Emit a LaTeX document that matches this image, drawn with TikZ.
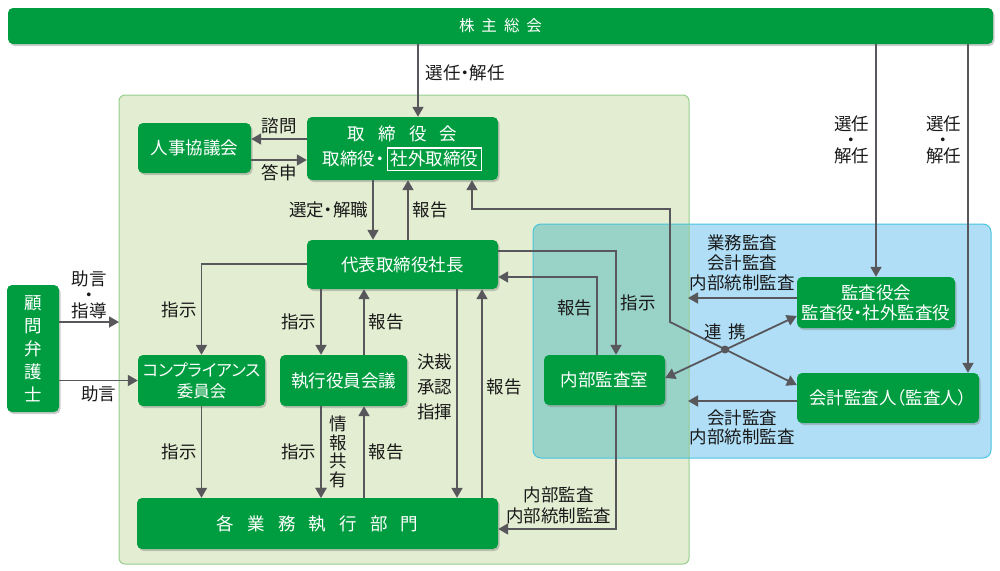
\documentclass[tikz,border=0pt]{standalone}
\usepackage{fontspec}
\setmainfont{Noto Sans CJK JP}[RawFeature=+palt]
\usetikzlibrary{arrows.meta, shadows}
\definecolor{kgreen}{RGB}{0,157,64}
\definecolor{boardfill}{RGB}{227,237,209}
\definecolor{boardline}{RGB}{150,206,142}
\definecolor{auditfill}{RGB}{176,222,246}
\definecolor{auditline}{RGB}{72,196,222}
\definecolor{overlapfill}{RGB}{153,210,199}
\definecolor{linkgray}{RGB}{88,87,91}
\setlength{\fboxsep}{2.5pt}
\setlength{\fboxrule}{1.2pt}
\newcommand*{\kgap}{\hspace{0.75em}}
\tikzstyle{unit} = [fill=kgreen, text=white, rounded corners=5pt, align=center, inner sep=0pt, font=\fontsize{17.5}{21}\selectfont, drop shadow={shadow xshift=1.5pt, shadow yshift=-2pt, opacity=0.4}]
\tikzstyle{flow} = [draw=linkgray, line width=1.8pt, -{Triangle[length=10pt, width=11pt]}]
\tikzstyle{twoway} = [flow, {Triangle[length=10pt, width=11pt]}-{Triangle[length=10pt, width=11pt]}]
\tikzstyle{lbl} = [font=\fontsize{17.5}{19}\selectfont, align=center, inner sep=4pt, text=black!90]
\tikzstyle{panel} = [line width=1pt]

\begin{document}
\begin{tikzpicture}[x=1pt, y=-1pt]
    \useasboundingbox (0,0) rectangle (1000,570);

    % Panels.
    \fill [panel, boardfill, rounded corners=6pt] (119,95) rectangle (689,564);
    \fill [panel, auditfill, rounded corners=8pt] (533,224) rectangle (991,458);
    \begin{scope}
        \clip [rounded corners=6pt] (119,95) rectangle (689,564);
        \fill [overlapfill, rounded corners=8pt] (533,224) rectangle (991,458);
    \end{scope}
    \draw [panel, boardline, rounded corners=6pt] (119,95) rectangle (689,564);
    \draw [panel, auditline, rounded corners=8pt] (533,224) rectangle (991,458);

    % Boxes.
    \node (soukai) [unit, minimum width=985pt, minimum height=36pt, font=\fontsize{15.5}{18}\selectfont] at (500.5,26) {株\hspace{7pt}主\hspace{7pt}総\hspace{7pt}会};
    \node (jinji) [unit, minimum width=113pt, minimum height=50pt] at (194.5,148) {人事協議会};
    \node (torishimari) [unit, minimum width=191pt, minimum height=63pt, font=\fontsize{17.5}{25}\selectfont] at (402.5,148.5) {取\kgap 締\kgap 役\kgap 会\\取締役・\,\fcolorbox{white}{kgreen}{社外取締役}};
    \node (daihyo) [unit, minimum width=191pt, minimum height=49pt] at (402.5,264.5) {代表取締役社長};
    \node (comp) [unit, minimum width=127pt, minimum height=51pt, font=\fontsize{16.5}{21}\selectfont] at (201.5,380.5) {コンプライアンス\\委員会};
    \node (shikko) [unit, minimum width=127pt, minimum height=51pt] at (343.5,380.5) {執行役員会議};
    \node (naibu) [unit, minimum width=121pt, minimum height=50pt] at (604.5,380) {内部監査室};
    \node (kansayaku) [unit, minimum width=158pt, minimum height=51pt, font=\fontsize{17.5}{20}\selectfont] at (876,302.5) {監査役会\\監査役・社外監査役};
    \node (kaikei) [unit, minimum width=182pt, minimum height=50pt] at (888,398) {会計監査人（監査人）};
    \node (komon) [unit, minimum width=52pt, minimum height=127pt, font=\fontsize{17.5}{23}\selectfont] at (33,348.5) {顧\\問\\弁\\護\\士};
    \node (kakubu) [unit, minimum width=361pt, minimum height=51pt] at (317.5,523.5) {各\kgap 業\kgap 務\kgap 執\kgap 行\kgap 部\kgap 門};

    % Connector ends.
    \coordinate (tori-in) at ([xshift=15.5pt]torishimari.north);
    \coordinate (shimon) at ([yshift=9.5pt]torishimari.west);
    \coordinate (toshin) at ([yshift=-12pt]jinji.east);
    \coordinate (sentei) at ([xshift=-29.5pt]torishimari.south);
    \coordinate (hokoku1) at ([xshift=5.5pt]daihyo.north);
    \coordinate (shiji2) at ([xshift=-22.5pt]shikko.north);
    \coordinate (hokoku2) at ([xshift=20.5pt]shikko.north);
    \coordinate (kessai) at ([xshift=54.5pt]daihyo.south);
    \coordinate (hokoku3) at ([xshift=79.5pt]daihyo.south);
    \coordinate (shiji3) at ([xshift=11.5pt]naibu.north);
    \coordinate (hokoku4) at ([xshift=-7.5pt]naibu.north);
    \coordinate (kansa1) at ([xshift=11.5pt]naibu.south);
    \coordinate (shiji5) at ([xshift=-22.5pt]shikko.south);
    \coordinate (hokoku5) at ([xshift=20.5pt]shikko.south);
    \coordinate (kaikei-in) at ([xshift=80pt]kaikei.north);
    \coordinate (board-e) at (688,0);
    \coordinate (advice-end) at (119,322);
    \coordinate (renkei-a) at ([xshift=69.5pt]torishimari.south);
    \coordinate (renkei-top) at (670,209);
    \coordinate (renkei-bend) at (670,322);
    \coordinate (renkei) at (725,349.5);

    % Arrows.
    \draw [flow] (soukai.south -| tori-in) -- node [lbl, right=3pt, pos=0.4] (l-senin) {選任・解任} (tori-in);
    \draw [flow] (soukai.south -| kansayaku.north) -- node [lbl, left=2pt, pos=0.41, font=\fontsize{17.5}{16}\selectfont] (l-senin2) {選任\\・\\解任} (kansayaku.north);
    \draw [flow] (soukai.south -| kaikei-in) -- node [lbl, left=2pt, pos=0.29, font=\fontsize{17.5}{16}\selectfont] (l-senin3) {選任\\・\\解任} (kaikei-in);
    \draw [flow] (shimon) -- node [lbl, above] (l-shimon) {諮問} (shimon -| jinji.east);
    \draw [flow] (toshin) -- node [lbl, below] (l-toshin) {答申} (toshin -| torishimari.west);
    \draw [flow] (sentei) -- node [lbl, left] (l-sentei) {選定・解職} (sentei |- daihyo.north);
    \draw [flow] (hokoku1) -- node [lbl, right] (l-hokoku1) {報告} (hokoku1 |- torishimari.south);
    \draw [flow] ([yshift=0.5pt]daihyo.west) -| node [lbl, left, pos=0.75] (l-shiji1) {指示} (comp.north);
    \draw [flow] (shiji2 |- daihyo.south) -- node [lbl, left] (l-shiji2) {指示} (shiji2);
    \draw [flow] (hokoku2) -- node [lbl, right] (l-hokoku2) {報告} (hokoku2 |- daihyo.south);
    \draw [flow] (kessai) -- node [lbl, left, pos=0.47, font=\fontsize{17.5}{25}\selectfont] (l-kessai) {決裁\\承認\\指揮} (kessai |- kakubu.north);
    \draw [flow] (hokoku3 |- kakubu.north) -- node [lbl, right, pos=0.53] (l-hokoku3) {報告} (hokoku3);
    \draw [flow] ([yshift=13.5pt]daihyo.east) -| node [lbl, right, pos=0.75] (l-shiji3) {指示} (shiji3);
    \draw [flow] (hokoku4) |- node [lbl, left, pos=0.3] (l-hokoku4) {報告} ([yshift=-12.5pt]daihyo.east);
    \draw [flow] (kansa1) |- node [lbl, anchor=south east, pos=0.5, font=\fontsize{17.5}{21}\selectfont] (l-kansa1) {内部監査\\内部統制監査} ([yshift=-5.5pt]kakubu.east);
    \draw [flow] (comp.south) -- node [lbl, left] (l-shiji4) {指示} (comp.south |- kakubu.north);
    \draw [flow] (shiji5) -- node [lbl, left] (l-shiji5) {指示} (shiji5 |- kakubu.north);
    \draw [flow] (shiji5) -- node [lbl, right=8pt, inner sep=0pt, font=\fontsize{17.5}{18.5}\selectfont] (l-joho) {情\\報\\共\\有} (shiji5 |- kakubu.north);
    \draw [flow] (hokoku5 |- kakubu.north) -- node [lbl, right] (l-hokoku5) {報告} (hokoku5);
    \draw [flow] ([yshift=4.5pt]kansayaku.west) -- node [lbl, above=2pt, font=\fontsize{17.5}{20}\selectfont] (l-gyomu) {業務監査\\会計監査\\内部統制監査} ([yshift=4.5pt]kansayaku.west -| board-e);
    \draw [flow] ([yshift=-3pt]kaikei.west) -- node [lbl, below=4pt, font=\fontsize{17.5}{19}\selectfont] (l-kaikei) {会計監査\\内部統制監査} ([yshift=-3pt]kaikei.west -| board-e);
    \draw [flow] (komon.east |- advice-end) -- node [lbl, above, inner sep=2pt, font=\fontsize{17.5}{16}\selectfont] (l-jogen1) {助言\\・\\指導} (advice-end);
    \draw [flow] (komon.east |- comp.west) -- node [lbl, below] (l-jogen2) {助言} (comp.west);

    % Cooperation.
    \draw [twoway] ([yshift=2pt]naibu.east) -- ([yshift=-13.5pt]kansayaku.west);
    \draw [twoway] (renkei-a) |- (renkei-top) -- (renkei-bend) -- ([yshift=13pt]kaikei.west);
    \fill [linkgray] (renkei) circle (4pt);
    \node (l-renkei) [lbl, above=5pt] at (renkei) {連\hspace{0.4em}携};
\end{tikzpicture}
\end{document}
